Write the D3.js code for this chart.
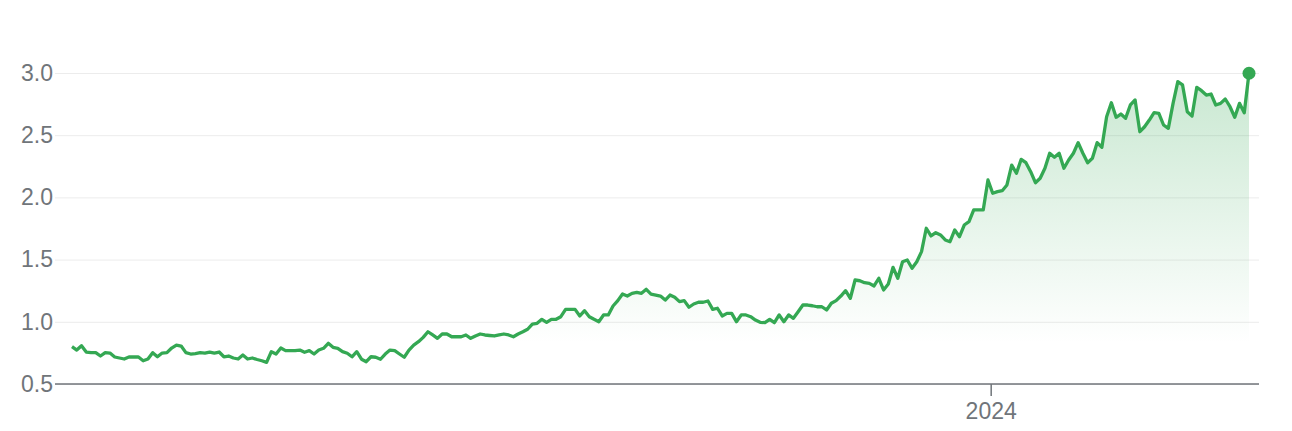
<script src="https://d3js.org/d3.v7.min.js"></script>
<style>
  body { margin: 0; background: #fff; }
  #chart text { font-family: "Liberation Sans", Arial, sans-serif; }
</style>
<div id="chart"></div>

<script>

// weekly closing values (first week = startDate)
var startDate = new Date(2020, 3, 16);
var values = [
  0.800, 0.773, 0.808, 0.757, 0.753, 0.752, 0.725, 0.752, 0.749, 0.717,
  0.709, 0.701, 0.717, 0.717, 0.717, 0.687, 0.701, 0.752, 0.719, 0.749,
  0.752, 0.789, 0.813, 0.805, 0.752, 0.741, 0.745, 0.752, 0.749, 0.757,
  0.749, 0.757, 0.719, 0.725, 0.709, 0.701, 0.733, 0.701, 0.709, 0.697,
  0.687, 0.674, 0.760, 0.741, 0.789, 0.768, 0.768, 0.768,
  0.773, 0.755, 0.768, 0.741, 0.773, 0.787, 0.827, 0.795, 0.787, 0.760,
  0.747, 0.719, 0.760, 0.699, 0.679, 0.719, 0.715, 0.699, 0.741, 0.773,
  0.768, 0.741, 0.715, 0.773, 0.813, 0.840, 0.875, 0.920, 0.894, 0.867,
  0.902, 0.902, 0.880, 0.880, 0.880, 0.894, 0.867, 0.886, 0.902, 0.894,
  0.890, 0.886, 0.894, 0.902, 0.894, 0.880, 0.902, 0.920,
  0.940, 0.982, 0.988, 1.020, 0.996, 1.020, 1.020, 1.041, 1.100, 1.100,
  1.100, 1.047, 1.089, 1.041, 1.020, 1.001, 1.055, 1.055, 1.127, 1.170,
  1.223, 1.207, 1.229, 1.237, 1.229, 1.261, 1.223, 1.215, 1.207, 1.175,
  1.215, 1.197, 1.162, 1.170, 1.117, 1.143, 1.157, 1.157, 1.167, 1.100,
  1.109, 1.047, 1.068, 1.068, 1.001, 1.055, 1.055, 1.041, 1.014, 0.996,
  0.993, 1.020,
  0.993, 1.055, 1.001, 1.055, 1.028, 1.081, 1.135, 1.135, 1.129, 1.121,
  1.121, 1.095, 1.149, 1.170, 1.207, 1.250, 1.189, 1.336, 1.330, 1.314,
  1.309, 1.288, 1.350, 1.256, 1.304, 1.438, 1.350, 1.483, 1.497, 1.430,
  1.483, 1.564, 1.752, 1.690, 1.716, 1.698, 1.658, 1.644, 1.738, 1.684,
  1.778, 1.805, 1.899, 1.899, 1.899, 2.140, 2.033, 2.046,
  2.054, 2.100, 2.260, 2.194, 2.306, 2.279, 2.207, 2.118, 2.154, 2.234,
  2.355, 2.322, 2.355, 2.234, 2.301, 2.355, 2.440, 2.355, 2.279, 2.314,
  2.440, 2.403, 2.649, 2.761, 2.644, 2.670, 2.636, 2.743, 2.783, 2.528,
  2.568, 2.622, 2.681, 2.676, 2.582, 2.555, 2.756, 2.930, 2.904, 2.689,
  2.654, 2.885, 2.858, 2.823, 2.831, 2.743, 2.756, 2.791, 2.729, 2.644,
  2.756, 2.681, 2.998
];

var yTicks = [0.5, 1.0, 1.5, 2.0, 2.5, 3.0];
var xTicks = [new Date(2024, 0, 1)];
var xTickLabels = ["2024"];

var data = values.map(function (v, i) {
  return { date: d3.timeDay.offset(startDate, 7 * i), value: v };
});

var width = 1292;
var height = 431;
var gridLeft = 55;
var gridRight = 1259;
var green = "#34a853";
var grey = "#70757a";

var xScale = d3.scaleTime()
    .domain(d3.extent(data, function (d) { return d.date; }))
    .range([72, 1249]);

var yScale = d3.scaleLinear()
    .domain([0.5, 3.0])
    .range([384, 73]);

var svg = d3.select("#chart")
    .append("svg")
    .attr("width", width)
    .attr("height", height);

// Gradient for the area under the line
var grad = svg.append("defs")
    .append("linearGradient")
    .attr("id", "fade")
    .attr("gradientUnits", "userSpaceOnUse")
    .attr("x1", 0).attr("x2", 0)
    .attr("y1", yScale(3.0))
    .attr("y2", yScale(0.83));
grad.append("stop").attr("offset", "0%").attr("stop-color", green).attr("stop-opacity", 0.27);
grad.append("stop").attr("offset", "100%").attr("stop-color", green).attr("stop-opacity", 0);

// Y axis with gridlines
var yAxis = d3.axisLeft(yScale)
    .tickValues(yTicks)
    .tickFormat(d3.format(".1f"))
    .tickSize(-(gridRight - gridLeft))
    .tickPadding(2);

var gy = svg.append("g")
    .attr("transform", "translate(" + gridLeft + ",0)")
    .call(yAxis);
gy.select(".domain").remove();
gy.selectAll(".tick line")
    .attr("stroke", "#ececec")
    .attr("stroke-width", 1);
gy.selectAll(".tick text")
    .attr("fill", grey)
    .attr("font-size", "23px");

// Area and line
var area = d3.area()
    .x(function (d) { return xScale(d.date); })
    .y0(yScale(0.5))
    .y1(function (d) { return yScale(d.value); });

var line = d3.line()
    .x(function (d) { return xScale(d.date); })
    .y(function (d) { return yScale(d.value); });

svg.append("path")
    .datum(data)
    .attr("d", area)
    .attr("fill", "url(#fade)");

svg.append("path")
    .datum(data)
    .attr("d", line)
    .attr("fill", "none")
    .attr("stroke", green)
    .attr("stroke-width", 3.3)
    .attr("stroke-linejoin", "round");

// X axis (baseline + single year tick)
var xAxis = d3.axisBottom(xScale)
    .tickValues(xTicks)
    .tickFormat(function (d, i) { return xTickLabels[i]; })
    .tickSize(12)
    .tickPadding(7);

var gx = svg.append("g")
    .attr("transform", "translate(0," + yScale(0.5) + ")")
    .call(xAxis);
gx.select(".domain").remove();
gx.selectAll(".tick line")
    .attr("stroke", grey)
    .attr("stroke-width", 1.5);
gx.selectAll(".tick text")
    .attr("fill", grey)
    .attr("font-size", "23px");

svg.append("line")
    .attr("x1", gridLeft)
    .attr("x2", gridRight)
    .attr("y1", yScale(0.5))
    .attr("y2", yScale(0.5))
    .attr("stroke", grey)
    .attr("stroke-width", 1.5);

// Last point marker
var last = data[data.length - 1];
svg.append("circle")
    .attr("cx", xScale(last.date))
    .attr("cy", yScale(last.value))
    .attr("r", 6.5)
    .attr("fill", green);

</script>
